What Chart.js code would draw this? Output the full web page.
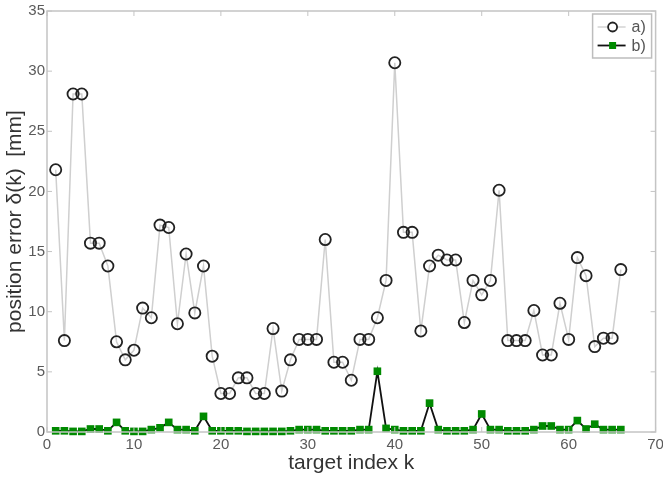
<!DOCTYPE html>
<html>
<head>
<meta charset="utf-8">
<script src="https://cdn.jsdelivr.net/npm/chart.js@4/dist/chart.umd.min.js"></script>
<style>
html,body{margin:0;padding:0;background:#fff;overflow:hidden;}
#wrap{width:663px;height:478px;position:relative;}
</style>
</head>
<body>
<div id="wrap"><canvas id="c" width="663" height="478"></canvas></div>
<script>
const kIndex = Array.from({length: 66}, (_, i) => i + 1);
const seriesA = [21.8, 7.6, 28.1, 28.1, 15.7, 15.7, 13.8, 7.5, 6.0, 6.8,
  10.3, 9.5, 17.2, 17.0, 9.0, 14.8, 9.9, 13.8, 6.3, 3.2,
  3.2, 4.5, 4.5, 3.2, 3.2, 8.6, 3.4, 6.0, 7.7, 7.7,
  7.7, 16.0, 5.8, 5.8, 4.3, 7.7, 7.7, 9.5, 12.6, 30.7,
  16.6, 16.6, 8.4, 13.8, 14.7, 14.3, 14.3, 9.1, 12.6, 11.4,
  12.6, 20.1, 7.6, 7.6, 7.6, 10.1, 6.4, 6.4, 10.7, 7.7,
  14.5, 13.0, 7.1, 7.8, 7.8, 13.5];
const seriesB = [0.1, 0.1, 0.05, 0.05, 0.25, 0.25, 0.1, 0.8, 0.1, 0.05,
  0.05, 0.2, 0.35, 0.8, 0.2, 0.2, 0.1, 1.3, 0.1, 0.1,
  0.1, 0.1, 0.05, 0.05, 0.05, 0.05, 0.05, 0.1, 0.2, 0.2,
  0.2, 0.1, 0.1, 0.1, 0.1, 0.2, 0.2, 5.05, 0.3, 0.2,
  0.1, 0.1, 0.1, 2.4, 0.2, 0.1, 0.1, 0.1, 0.2, 1.5,
  0.2, 0.2, 0.1, 0.1, 0.1, 0.2, 0.5, 0.5, 0.2, 0.2,
  0.95, 0.25, 0.65, 0.2, 0.2, 0.2];
const seriesNames = ['a)', 'b)'];
const xTicks = [0, 10, 20, 30, 40, 50, 60, 70];
const yTicks = [0, 5, 10, 15, 20, 25, 30, 35];
const xTitle = 'target index k';
const yTitle = 'position error δ(k)  [mm]';

const AXIS = '#c4c4c4';
const TICKTXT = '#5a5a5a';
const FONT = '"Liberation Sans", Arial, sans-serif';

const boxPlugin = {
  id: 'boxPlugin',
  afterDatasetsDraw(chart) {
    const {ctx, chartArea: a, scales} = chart;
    ctx.save();
    ctx.strokeStyle = AXIS;
    ctx.lineWidth = 1.5;
    ctx.strokeRect(a.left, a.top, a.right - a.left, a.bottom - a.top);
    ctx.lineWidth = 1;
    const L = 5;
    xTicks.forEach(v => {
      const px = scales.x.getPixelForValue(v);
      ctx.beginPath();
      ctx.moveTo(px, a.bottom); ctx.lineTo(px, a.bottom - L);
      ctx.moveTo(px, a.top); ctx.lineTo(px, a.top + L);
      ctx.stroke();
    });
    yTicks.forEach(v => {
      const py = scales.y.getPixelForValue(v);
      ctx.beginPath();
      ctx.moveTo(a.left, py); ctx.lineTo(a.left + L, py);
      ctx.moveTo(a.right, py); ctx.lineTo(a.right - L, py);
      ctx.stroke();
    });
    ctx.restore();
  },
  afterDraw(chart) {
    const {ctx, chartArea: a} = chart;
    const bx = a.right - 63, by = a.top + 3, bw = 59, bh = 44;
    ctx.save();
    ctx.fillStyle = '#fff';
    ctx.fillRect(bx, by, bw, bh);
    ctx.strokeStyle = '#bdbdbd';
    ctx.lineWidth = 1.5;
    ctx.strokeRect(bx, by, bw, bh);
    const ds = chart.data.datasets;
    const rows = [by + 13, by + 31.5];
    rows.forEach((ry, i) => {
      const d = ds[i];
      ctx.strokeStyle = i === 0 ? '#c8c8c8' : '#111';
      ctx.lineWidth = i === 0 ? 1.2 : 1.8;
      ctx.beginPath();
      ctx.moveTo(bx + 5, ry); ctx.lineTo(bx + 33, ry);
      ctx.stroke();
      const mx = bx + 20;
      if (i === 0) {
        ctx.strokeStyle = '#222';
        ctx.lineWidth = 1.8;
        ctx.fillStyle = '#fff';
        ctx.beginPath();
        ctx.arc(mx, ry, 4.5, 0, Math.PI * 2);
        ctx.fill(); ctx.stroke();
      } else {
        ctx.fillStyle = '#008a00';
        ctx.fillRect(mx - 3.5, ry - 3.5, 7, 7);
      }
      ctx.fillStyle = '#555';
      ctx.font = '16px ' + FONT;
      ctx.textBaseline = 'middle';
      ctx.textAlign = 'left';
      ctx.fillText(seriesNames[i], bx + 39, ry + 1);
    });
    ctx.restore();
  }
};

new Chart(document.getElementById('c'), {
  type: 'line',
  data: {
    datasets: [
      {
        label: seriesNames[0],
        data: kIndex.map((k, i) => ({x: k, y: seriesA[i]})),
        borderColor: '#cfcfcf',
        borderWidth: 1.5,
        pointStyle: 'circle',
        pointRadius: 5.6,
        pointBorderWidth: 1.8,
        pointBorderColor: '#222',
        pointBackgroundColor: 'rgba(255,255,255,0)',
        tension: 0,
        order: 2
      },
      {
        label: seriesNames[1],
        data: kIndex.map((k, i) => ({x: k, y: seriesB[i]})),
        borderColor: '#111',
        borderWidth: 1.8,
        pointStyle: 'rect',
        pointRadius: 5.4,
        pointBorderWidth: 0,
        pointBorderColor: '#008a00',
        pointBackgroundColor: '#008a00',
        tension: 0,
        order: 1
      }
    ]
  },
  options: {
    responsive: false,
    animation: false,
    clip: false,
    layout: {padding: {top: 11, right: 5, left: 0, bottom: 0}},
    plugins: {legend: {display: false}, tooltip: {enabled: false}},
    scales: {
      x: {
        type: 'linear', min: 0, max: 70,
        afterBuildTicks: s => { s.ticks = xTicks.map(v => ({value: v})); },
        afterFit: s => { s.height = 46; s.paddingLeft = 0; s.paddingRight = 0; },
        grid: {display: false, drawTicks: false},
        border: {display: false},
        ticks: {color: TICKTXT, padding: 4, font: {family: FONT, size: 15}, maxRotation: 0},
        title: {display: true, text: xTitle, color: '#333', padding: {top: 0, bottom: 2}, font: {family: FONT, size: 21}}
      },
      y: {
        type: 'linear', min: 0, max: 35,
        afterBuildTicks: s => { s.ticks = yTicks.map(v => ({value: v})); },
        afterFit: s => { s.width = 47; s.paddingTop = 0; s.paddingBottom = 0; },
        grid: {display: false, drawTicks: false},
        border: {display: false},
        ticks: {color: TICKTXT, padding: 2, font: {family: FONT, size: 15}},
        title: {display: true, text: yTitle, color: '#333', padding: {top: 3, bottom: 0}, font: {family: FONT, size: 21}}
      }
    }
  },
  plugins: [boxPlugin]
});
</script>
</body>
</html>
